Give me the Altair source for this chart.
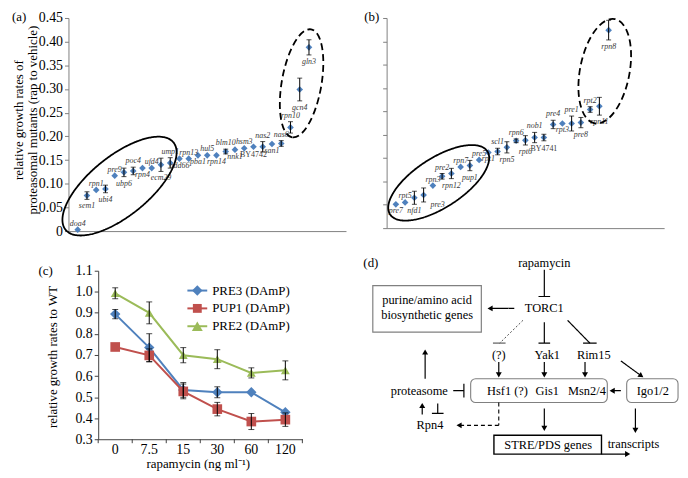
import altair as alt
import pandas as pd

FONT = "Liberation Serif"
POINT_BLUE = "#4F81BD"
AXIS_GRAY = "#808080"
LABEL_GRAY = "#3a3a3a"

# ---------------- panel (a) : deletion mutants
a_mutants = ["doa4", "sem1", "rpn1", "ubi4", "pre9", "ubp6", "poc4", "rpn4", "ufd4", "ecm29",
             "ump1", "add66", "rpn13", "pba1", "hul5", "rpn14", "blm10", "nnk1", "hsm3", "BY4742",
             "nas2", "san1", "nas6", "rpn10", "gcn4", "gln3"]
a_growth = [0.003, 0.075, 0.087, 0.089, 0.117, 0.124, 0.127, 0.133, 0.133, 0.140,
            0.144, 0.153, 0.153, 0.160, 0.160, 0.160, 0.168, 0.172, 0.175, 0.178,
            0.178, 0.184, 0.185, 0.219, 0.299, 0.388]
a_error = [0, 0.008, 0, 0.008, 0, 0.009, 0.008, 0, 0, 0.014,
           0.011, 0, 0, 0, 0, 0, 0.005, 0, 0, 0,
           0.011, 0, 0.006, 0.012, 0.024, 0.016]
a_labels_above = ["doa4", "rpn1", "pre9", "poc4", "ufd4", "ump1", "rpn13", "hul5", "blm10",
                  "hsm3", "nas2", "nas6", "rpn10"]
a_labels_right = []
a_ticks = [0, 0.05, 0.10, 0.15, 0.20, 0.25, 0.30, 0.35, 0.40, 0.45]

# ---------------- panel (b) : DAmP mutants
b_mutants = ["pre7", "rpt5", "nfd1", "pre3", "rpn3", "pre2", "rpn12", "rpn7", "pup1", "pre5",
             "rpt1", "scl1", "rpn5", "rpn6", "rpt6", "nob1", "BY4741", "pre4", "rpt3", "pre1",
             "pre8", "rpt2", "rpn11", "rpn8"]
b_growth = [0.051, 0.055, 0.065, 0.071, 0.091, 0.111, 0.117, 0.131, 0.134, 0.146,
            0.162, 0.164, 0.173, 0.187, 0.188, 0.194, 0.194, 0.222, 0.224, 0.224,
            0.226, 0.254, 0.261, 0.424]
b_error = [0, 0, 0.014, 0.015, 0, 0.006, 0.011, 0, 0.011, 0,
           0, 0.007, 0.012, 0.004, 0.010, 0.011, 0.007, 0.009, 0, 0.016,
           0.011, 0.006, 0.019, 0.021]
b_labels_above = ["rpt5", "rpn3", "pre2", "rpn7", "pre5", "scl1", "rpn6", "nob1", "pre4",
                  "pre1", "rpt2"]
b_labels_right = ["pre3"]

# ---------------- panel (c) : dose response
c_doses = ["0", "7.5", "15", "30", "60", "120"]
c_series = ["PRE3 (DAmP)", "PUP1 (DAmP)", "PRE2 (DAmP)"]
c_pre3 = [0.894, 0.735, 0.534, 0.523, 0.523, 0.428]
c_pre3_err = [0.022, 0.066, 0.035, 0.026, 0.0, 0.0]
c_pup1 = [0.738, 0.698, 0.527, 0.443, 0.384, 0.393]
c_pup1_err = [0.0, 0.031, 0.035, 0.032, 0.038, 0.032]
c_pre2 = [0.993, 0.900, 0.699, 0.680, 0.615, 0.627]
c_pre2_err = [0.026, 0.052, 0.036, 0.045, 0.024, 0.045]
c_ticks = [0.3, 0.4, 0.5, 0.6, 0.7, 0.8, 0.9, 1.0, 1.1]
c_colors = ["#4F81BD", "#C0504D", "#9BBB59"]
c_shapes = ["diamond", "square", "triangle-up"]
c_sizes = [110, 80, 120]

# ---------------- panel (d) : diagram (node texts and links)
d_texts = [("rapamycin", 549, 260), ("TORC1", 549, 306), ("purine/amino acid", 428, 298),
           ("biosynthetic genes", 428, 313), ("(?)", 502, 353), ("Yak1", 552, 353),
           ("Rim15", 600, 353), ("Hsf1 (?)", 511, 389), ("Gis1", 552, 389), ("Msn2/4", 593, 389),
           ("Igo1/2", 661, 389), ("proteasome", 420, 389), ("Rpn4", 431, 424),
           ("STRE/PDS genes", 553, 444), ("transcripts", 641, 443)]
# (x1, x2, y1, y2)
d_boxes_plain = [(372, 484, 283, 330)]
d_boxes_round = [(473, 614, 377, 401), (634, 687, 377, 401)]
d_boxes_bold = [(497, 608, 434, 453)]
# (x1, y1, x2, y2, style, width)
d_links = [
    (549, 267, 549, 294, "solid", 1.2), (543, 294, 555, 294, "solid", 1.2),
    (518, 306, 493, 306, "solid", 1.2),
    (527, 318, 503, 341, "dot", 0.7), (496, 341, 509, 341, "solid", 0.8),
    (549, 320, 549, 341, "solid", 1.2), (543, 341, 555, 341, "solid", 1.2),
    (573, 318, 596, 341, "solid", 1.2), (589, 341, 603, 341, "solid", 1.2),
    (502, 360, 502, 373, "solid", 1.2), (549, 360, 549, 373, "solid", 1.2),
    (591, 360, 591, 373, "solid", 1.2), (628, 359, 649, 374, "solid", 1.2),
    (628, 389, 619, 389, "solid", 1.2),
    (455, 389, 466, 389, "solid", 1.2), (466, 382, 466, 396, "solid", 1.2),
    (426, 377, 426, 350, "solid", 1.2),
    (423, 413, 423, 404, "solid", 1.2),
    (439, 402, 439, 412, "solid", 1.2), (433, 412, 445, 412, "solid", 1.2),
    (502, 401, 502, 424, "dash", 1.1), (502, 424, 461, 424, "dash", 1.1),
    (549, 407, 549, 427, "solid", 1.2), (643, 407, 643, 429, "solid", 1.2),
    (608, 453, 635, 453, "solid", 1.3),
]
# arrow heads (x, y, angle)
d_heads = [(493, 306, 270), (502, 373, 180), (549, 373, 180), (591, 373, 180),
           (649, 374, 126), (619, 389, 270), (426, 350, 0), (423, 404, 0),
           (461, 424, 270), (549, 427, 180), (643, 429, 180), (635, 453, 90)]


def spacer(x0, x1, y0, y1):
    return alt.Chart(pd.DataFrame({"s": [0]})).mark_rule(strokeOpacity=0).encode(
        x=alt.value(x0), x2=alt.value(x1), y=alt.value(y0), y2=alt.value(y1))


def note(text, x, y, size=13, angle=0, align="center", style="normal", color="black"):
    return alt.Chart(pd.DataFrame({"t": [text]})).mark_text(
        font=FONT, fontSize=size, angle=angle, align=align, baseline="middle",
        fontStyle=style, color=color).encode(text="t:N", x=alt.value(x), y=alt.value(y))


def ellipse_path(ratio):
    k = 0.5523
    r = ratio
    return (f"M-1,0C-1,{-k*r:.4f},{-k:.4f},{-r:.4f},0,{-r:.4f}"
            f"C{k:.4f},{-r:.4f},1,{-k*r:.4f},1,0"
            f"C1,{k*r:.4f},{k:.4f},{r:.4f},0,{r:.4f}"
            f"C{-k:.4f},{r:.4f},-1,{k*r:.4f},-1,0Z")


def mutant_panel(names, values, errors, above, right, show_labels, ellipses):
    df = pd.DataFrame({"mutant": names, "growth": values, "err": errors})
    df["pos"] = list(range(1, len(names) + 1))
    df["lo"] = df["growth"] - df["err"]
    df["hi"] = df["growth"] + df["err"]
    df["above"] = df["mutant"].isin(above)
    df["right"] = df["mutant"].isin(right)
    df["strain"] = df["mutant"].str.startswith("BY")

    xs = alt.Scale(domain=[0, 30], nice=False, zero=False)
    ys = alt.Scale(domain=[0, 0.45], nice=False)
    x_axis = alt.Axis(labels=False, ticks=False, title=None, grid=False,
                      domainColor=AXIS_GRAY, domainWidth=1)
    y_axis = alt.Axis(values=a_ticks, title=None, grid=False, labels=show_labels,
                      labelExpr="datum.value == 0 ? '0' : format(datum.value, '.2f')",
                      tickSize=4, labelPadding=2, labelFont=FONT, labelFontSize=14,
                      labelColor="black", domainColor=AXIS_GRAY, tickColor=AXIS_GRAY)

    def X():
        return alt.X("pos:Q", scale=xs, axis=x_axis)

    def Y(f):
        return alt.Y(f"{f}:Q", scale=ys, axis=y_axis)

    base = alt.Chart(df)
    pts = base.mark_point(shape="diamond", filled=True, size=45, color=POINT_BLUE,
                          opacity=1).encode(x=X(), y=Y("growth"))
    eb = base.transform_filter("datum.err > 0")
    bars = eb.mark_rule(color="black", strokeWidth=1).encode(x=X(), y=Y("lo"), y2="hi:Q")
    cap_lo = eb.mark_tick(orient="horizontal", size=5, thickness=1, color="black").encode(
        x=X(), y=Y("lo"))
    cap_hi = eb.mark_tick(orient="horizontal", size=5, thickness=1, color="black").encode(
        x=X(), y=Y("hi"))
    italic = dict(font=FONT, fontSize=8, fontStyle="italic", color=LABEL_GRAY)
    lab_up = base.transform_filter("datum.above && !datum.strain").mark_text(
        dy=-6, **italic).encode(x=X(), y=Y("hi"), text="mutant:N")
    lab_dn = base.transform_filter("!datum.above && !datum.right && !datum.strain").mark_text(
        dy=7, **italic).encode(x=X(), y=Y("lo"), text="mutant:N")
    lab_rt = base.transform_filter("datum.right").mark_text(
        dx=7, dy=10, align="left", **italic).encode(x=X(), y=Y("growth"), text="mutant:N")
    lab_st = base.transform_filter("datum.strain").mark_text(
        font=FONT, fontSize=8, color=LABEL_GRAY, dy=8).encode(
        x=X(), y=Y("lo"), text="mutant:N")

    layers = [pts, bars, cap_lo, cap_hi, lab_up, lab_dn, lab_rt, lab_st]
    for (cx, cy, ratio, size, angle, dash) in ellipses:
        e = alt.Chart(pd.DataFrame({"pos": [cx], "growth": [cy]})).mark_point(
            shape=ellipse_path(ratio), size=size, angle=angle, filled=False,
            stroke="black", strokeWidth=1.8, opacity=1, strokeDash=dash).encode(
            x=X(), y=Y("growth"))
        layers.append(e)
    return layers


# ---- left gutter cell (keeps the first real panel of every row free to place)
def gutter():
    return spacer(0, 1, 0, 1).properties(width=1, height=1)


# ---- panel a  (plot area: page x 66..346, y 15..230)
a_layers = mutant_panel(a_mutants, a_growth, a_error, a_labels_above, a_labels_right, True, [
    (5.52, 0.095, 0.4286, 19600, 321, [1, 0]),
    (25.2, 0.312, 0.362, 12232, 280, [7, 4]),
])
panel_a = alt.layer(
    spacer(-57, 284, -7, 235),
    *a_layers,
    note("(a)", -57, -1, size=13, align="left"),
    note("relative growth rates of", -50, 103, size=13, angle=270),
    note("proteasomal mutants (rap to vehicle)", -36, 103, size=13, angle=270),
).properties(width=280, height=215)

# ---- panel b  (plot area: page x 385..665, y 15..227)
b_layers = mutant_panel(b_mutants, b_growth, b_error, b_labels_above, b_labels_right, False, [
    (5.63, 0.097, 0.427, 13689, 327, [1, 0]),
    (23.58, 0.336, 0.466, 11492, 281, [7, 4]),
])
panel_b = alt.layer(
    spacer(-35, 295, -7, 235),
    *b_layers,
    note("(b)", -15, -1, size=13),
).properties(width=280, height=212)

# ---- panel c  (plot area: page x 96..302, y 268..438)
rows = []
for s, vals, errs in zip(c_series, [c_pre3, c_pup1, c_pre2], [c_pre3_err, c_pup1_err, c_pre2_err]):
    for k, (d, v, e) in enumerate(zip(c_doses, vals, errs)):
        rows.append({"series": s, "dose": d, "k": k, "value": v, "err": e,
                     "lo": v - e, "hi": v + e})
cdf = pd.DataFrame(rows)

C_W, C_H = 206, 170
cx_scale = alt.Scale(type="band", domain=c_doses, paddingInner=0, paddingOuter=0)
cx_axis = alt.Axis(title=None, grid=False, ticks=False, labelAngle=0, labelPadding=3,
                   labelFont=FONT, labelFontSize=14, labelColor="black",
                   domainColor="#404040")
cy_scale = alt.Scale(domain=[0.3, 1.1], nice=False, zero=False)
cy_axis = alt.Axis(values=c_ticks, format=".1f", title=None, grid=False, tickSize=4,
                   labelPadding=2, labelFont=FONT, labelFontSize=14, labelColor="black",
                   domainColor="#404040", tickColor="#404040")


def CX(band=0.5):
    return alt.X("dose:N", sort=c_doses, scale=cx_scale, axis=cx_axis, bandPosition=band)


def CY(f):
    return alt.Y(f"{f}:Q", scale=cy_scale, axis=cy_axis)


color_enc = alt.Color("series:N", scale=alt.Scale(domain=c_series, range=c_colors), legend=None)
cbase = alt.Chart(cdf)
c_lines = cbase.mark_line(strokeWidth=2).encode(
    x=CX(), y=CY("value"), color=color_enc, order=alt.Order("k:Q"))
c_pts = cbase.mark_point(filled=True, opacity=1).encode(
    x=CX(), y=CY("value"), color=color_enc,
    shape=alt.Shape("series:N", scale=alt.Scale(domain=c_series, range=c_shapes), legend=None),
    size=alt.Size("series:N", scale=alt.Scale(domain=c_series, range=c_sizes), legend=None))
ceb = cbase.transform_filter("datum.err > 0")
c_bars = ceb.mark_rule(color="black", strokeWidth=1).encode(x=CX(), y=CY("lo"), y2="hi:Q")
c_cap_lo = ceb.mark_tick(orient="horizontal", size=6, thickness=1, color="black").encode(
    x=CX(), y=CY("lo"))
c_cap_hi = ceb.mark_tick(orient="horizontal", size=6, thickness=1, color="black").encode(
    x=CX(), y=CY("hi"))

# category-boundary tick marks (Excel style)
c_edge_ticks = alt.Chart(pd.DataFrame({"dose": c_doses})).mark_rule(color="#404040").encode(
    x=CX(0), y=alt.value(C_H), y2=alt.value(C_H + 4))
c_end_tick = alt.Chart(pd.DataFrame({"dose": [c_doses[-1]]})).mark_rule(color="#404040").encode(
    x=CX(1), y=alt.value(C_H), y2=alt.value(C_H + 4))

legend_layers = []
for i, (s, col, shp, sz) in enumerate(zip(c_series, c_colors, c_shapes, c_sizes)):
    ly = 20 + 18 * i
    one = alt.Chart(pd.DataFrame({"series": [s]}))
    legend_layers.append(one.mark_rule(color=col, strokeWidth=2).encode(
        x=alt.value(90), x2=alt.value(110), y=alt.value(ly)))
    legend_layers.append(one.mark_point(shape=shp, filled=True, size=sz, color=col,
                                        opacity=1).encode(x=alt.value(100), y=alt.value(ly)))
    legend_layers.append(one.mark_text(font=FONT, fontSize=13, align="left",
                                       baseline="middle").encode(
        text="series:N", x=alt.value(115), y=alt.value(ly)))

panel_c = alt.layer(
    spacer(-87, 234, -18, 202),
    c_lines, c_pts, c_bars, c_cap_lo, c_cap_hi, c_edge_ticks, c_end_tick,
    *legend_layers,
    note("(c)", -53, 0, size=13),
    note("relative growth rates to WT", -46, 87, size=13, angle=270),
    note("rapamycin (ng ml\u207b\u00b9)", 101, 195, size=13),
).properties(width=C_W, height=C_H)

# ---- panel d  (plot area: page x 330..680, y 268..470; content above is unclipped)
dxs = alt.Scale(domain=[330, 688], nice=False, zero=False)
dys = alt.Scale(domain=[268, 470], nice=False, zero=False, reverse=True)


def DX(f):
    return alt.X(f"{f}:Q", scale=dxs, axis=None)


def DY(f):
    return alt.Y(f"{f}:Q", scale=dys, axis=None)


tdf = pd.DataFrame(d_texts, columns=["label", "x", "y"])
d_text = alt.Chart(tdf).mark_text(font=FONT, fontSize=12.5, color="black",
                                  baseline="middle").encode(x=DX("x"), y=DY("y"), text="label:N")


def box_layer(boxes, color, width, radius):
    bdf = pd.DataFrame(boxes, columns=["x1", "x2", "y1", "y2"])
    return alt.Chart(bdf).mark_rect(fillOpacity=0, stroke=color, strokeWidth=width,
                                    cornerRadius=radius).encode(
        x=DX("x1"), x2="x2:Q", y=DY("y1"), y2="y2:Q")


ldf = pd.DataFrame(d_links, columns=["x1", "y1", "x2", "y2", "style", "w"])
d_rules = alt.Chart(ldf).mark_rule(color="black").encode(
    x=DX("x1"), y=DY("y1"), x2="x2:Q", y2="y2:Q",
    strokeWidth=alt.StrokeWidth("w:Q", scale=None),
    strokeDash=alt.StrokeDash("style:N", scale=alt.Scale(
        domain=["solid", "dash", "dot"], range=[[1, 0], [4, 3], [2, 2]]), legend=None))
hdf = pd.DataFrame(d_heads, columns=["x", "y", "angle"])
d_arrow = alt.Chart(hdf).mark_point(shape="triangle-up", filled=True, size=36,
                                    color="black", opacity=1).encode(
    x=DX("x"), y=DY("y"), angle=alt.Angle("angle:Q", scale=None))
d_label = alt.Chart(pd.DataFrame({"t": ["(d)"], "x": [370], "y": [260]})).mark_text(
    font=FONT, fontSize=13, baseline="middle").encode(x=DX("x"), y=DY("y"), text="t:N")

panel_d = alt.layer(
    spacer(0, 350, -18, 202),
    box_layer(d_boxes_plain, "#808080", 1.2, 0),
    box_layer(d_boxes_round, "#808080", 1.1, 5),
    box_layer(d_boxes_bold, "black", 1.4, 0),
    d_rules, d_arrow, d_text, d_label,
).properties(width=350, height=202)

chart = alt.vconcat(
    alt.hconcat(gutter(), panel_a, panel_b, spacing=0),
    alt.hconcat(gutter(), panel_c, panel_d, spacing=0),
    spacing=0,
).properties(padding=0, background="white").configure_view(stroke="transparent")

chart.save("out.html", embed_options={"renderer": "svg", "actions": False})
